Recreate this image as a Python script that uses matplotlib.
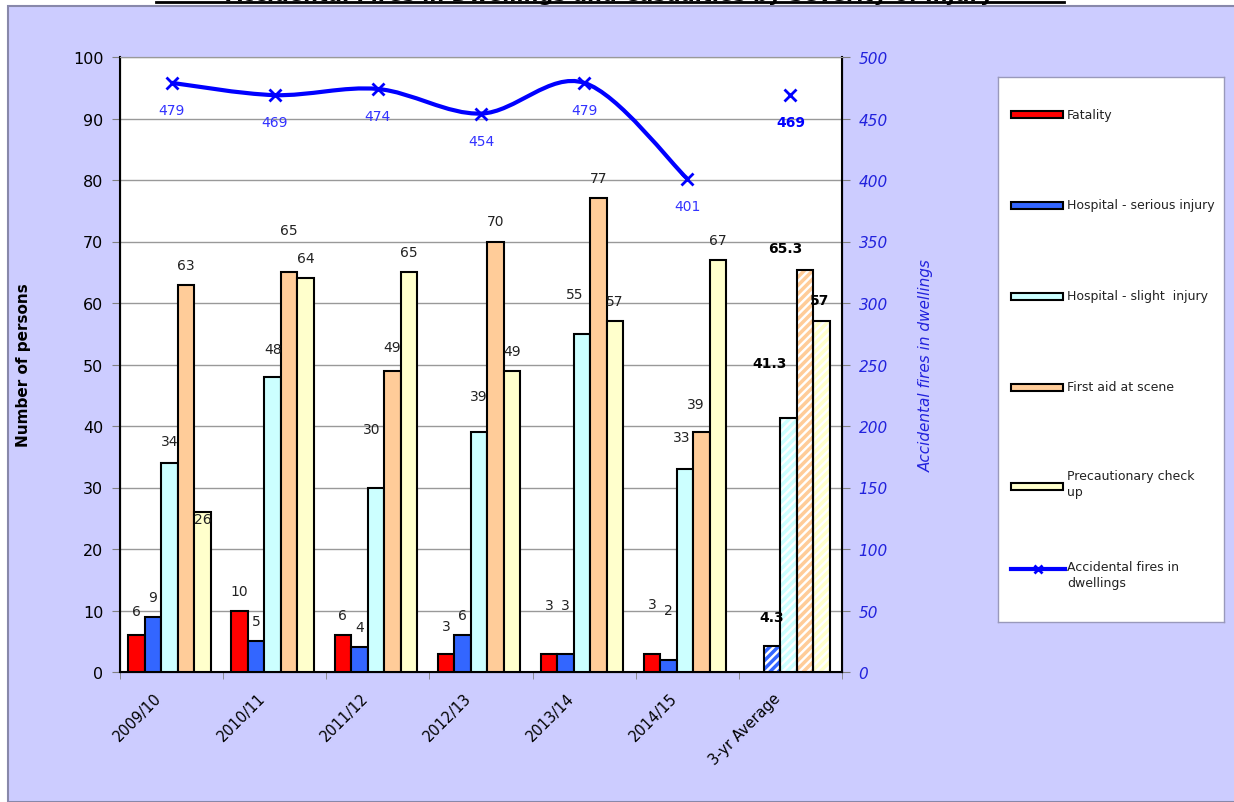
import numpy as np
import matplotlib
matplotlib.use("Agg")
import matplotlib.pyplot as plt
from matplotlib.path import Path
from matplotlib.patches import PathPatch, Rectangle
from matplotlib.lines import Line2D

# ---- data ----
YEARS      = ["2009/10", "2010/11", "2011/12", "2012/13", "2013/14", "2014/15"]
CATEGORIES = YEARS + ["3-yr Average"]
SERIES     = ["Fatality", "Hospital - serious injury", "Hospital - slight  injury",
              "First aid at scene", "Precautionary check\nup"]
FATALITY   = [6, 10, 6, 3, 3, 3]
SERIOUS    = [9, 5, 4, 6, 3, 2]
SLIGHT     = [34, 48, 30, 39, 55, 33]
FIRST_AID  = [63, 65, 49, 70, 77, 39]
CHECK_UP   = [26, 64, 65, 49, 57, 67]
AVERAGE    = [None, 4.3, 41.3, 65.3, 57]
FIRES      = [479, 469, 474, 454, 479, 401]
FIRES_AVG  = 469
LINE_NAME  = "Accidental fires in\ndwellings"

COLORS   = ["#FF0000", "#3366FF", "#CCFFFF", "#FFCC99", "#FFFFCC"]
BG       = "#CCCCFF"
BLUE     = "#0000FF"
LBLUE    = "#3333FF"

# label nudges in pixels (dx, dy) relative to default spot above the bar
NUDGE = {(0, 0): (0, -4), (2, 0): (0, -2), (4, 0): (0, 27),
         (2, 1): (0, -8), (3, 1): (0, -22),
         (2, 2): (-4, -38), (3, 2): (0, -4),
         (0, 3): (0, -8), (2, 3): (0, -16),
         (0, 4): (0, -29), (1, 4): (0, -29), (2, 4): (-7, -20),
         (0, 5): (0, -30), (1, 5): (0, -30), (2, 5): (-4, -12), (3, 5): (-6, -8),
         (1, 6): (0, -9), (2, 6): (-19, -35), (3, 6): (-20, -2), (4, 6): (-2, -1)}

W, H = 1234, 803
plt.rcParams["font.family"] = ["DejaVu Sans"]
plt.rcParams["hatch.linewidth"] = 2.5


def box(x0, y0, x1, y1):
    return [x0 / W, 1 - y1 / H, (x1 - x0) / W, (y1 - y0) / H]


fig = plt.figure(figsize=(W / 100, H / 100), dpi=100, facecolor="white")
fig.patches.append(Rectangle((8 / W, 0), 1, 1 - 6.5 / H, transform=fig.transFigure,
                             facecolor=BG, edgecolor="#8888AA", linewidth=1.5, zorder=-5))

# title sits mostly above the top edge, as in the source
fig.text(610 / W, 1 - 1 / H, "Accidental Fires in Dwellings and Casualties by Severity of Injury",
         ha="center", va="baseline", fontsize=15, fontweight="bold", color="black")
fig.lines.append(Line2D([156 / W, 1064 / W], [1 - 3 / H] * 2, transform=fig.transFigure,
                        color="black", linewidth=2))

ax = fig.add_axes(box(120, 58, 842, 673))
ax.set_facecolor("white")
ax2 = ax.twinx()

values = [FATALITY, SERIOUS, SLIGHT, FIRST_AID, CHECK_UP]
x = np.arange(len(CATEGORIES))
bw = 0.16
offsets = (np.arange(5) - 2) * bw - 0.02

for s, (vals, col) in enumerate(zip(values, COLORS)):
    ax.bar(x[:6] + offsets[s], vals, bw, color=col, edgecolor="black", linewidth=1.5, zorder=3)
    for g, v in enumerate(vals):
        dx, dy = NUDGE.get((s, g), (0, 0))
        ax.annotate(f"{v}", (x[g] + offsets[s], v), xytext=(dx, 20 - dy),
                    textcoords="offset pixels", ha="center", va="center",
                    fontsize=10, color="#222222", zorder=5)
    avg = AVERAGE[s]
    if avg is not None:
        ax.bar(x[6] + offsets[s], avg, bw, color="white", edgecolor=col, hatch="////",
               linewidth=0, zorder=3)
        ax.bar(x[6] + offsets[s], avg, bw, fill=False, edgecolor="black", linewidth=1.5, zorder=4)
        dx, dy = NUDGE.get((s, 6), (0, 0))
        ax.annotate(f"{avg:g}", (x[6] + offsets[s], avg), xytext=(dx, 20 - dy),
                    textcoords="offset pixels", ha="center", va="center",
                    fontsize=10, fontweight="bold", color="black", zorder=5)

ax.set_xlim(-0.5, 6.5)
ax.set_ylim(0, 100)
ax.set_yticks(np.arange(0, 101, 10))
ax.yaxis.grid(True, color="#999999", linewidth=1, zorder=0)
ax.set_axisbelow(True)
# label anchors sit a little left of each category centre (tick marks hidden)
ax.set_xticks(x - 0.17)
ax.set_xticklabels(CATEGORIES, rotation=45, ha="right", rotation_mode="anchor", fontsize=10.5)
ax.set_xticks(np.arange(-0.5, 7.0, 1), minor=True)
ax.tick_params(axis="x", which="major", length=0, pad=13)
ax.tick_params(axis="x", which="minor", length=5, color="#808080")
ax.tick_params(axis="y", length=6, color="#808080", labelsize=11.5, pad=6)
ax.set_ylabel("Number of persons", fontsize=11, fontweight="bold", labelpad=30)
for side in ["left", "bottom"]:
    ax.spines[side].set_linewidth(1.5)
ax.spines["top"].set_color("#999999")

# smooth line (Excel-style Bezier) on secondary axis
pts = np.column_stack([x[:6], FIRES]).astype(float)
verts, codes = [tuple(pts[0])], [Path.MOVETO]
for i in range(len(pts) - 1):
    p0 = pts[max(i - 1, 0)]
    p1, p2 = pts[i], pts[i + 1]
    p3 = pts[min(i + 2, len(pts) - 1)]
    verts += [tuple(p1 + (p2 - p0) / 6), tuple(p2 - (p3 - p1) / 6), tuple(p2)]
    codes += [Path.CURVE4] * 3
ax2.add_patch(PathPatch(Path(verts, codes), facecolor="none", edgecolor=BLUE,
                        linewidth=3, zorder=6))
ax2.plot(x[:6], FIRES, linestyle="none", marker="x", markersize=8, mew=2, color=BLUE, zorder=7)
ax2.plot([x[6]], [FIRES_AVG], linestyle="none", marker="x", markersize=8, mew=2, color=BLUE, zorder=7)
for xi, v in zip(x[:6], FIRES):
    ax2.annotate(f"{v}", (xi, v), xytext=(0, -27), textcoords="offset pixels",
                 ha="center", va="center", fontsize=10, color=LBLUE)
ax2.annotate(f"{FIRES_AVG}", (x[6], FIRES_AVG), xytext=(0, -27), textcoords="offset pixels",
             ha="center", va="center", fontsize=10, fontweight="bold", color=BLUE)

ax2.set_ylim(0, 500)
ax2.set_yticks(np.arange(0, 501, 50))
ax2.tick_params(axis="y", length=6, color="#808080", labelsize=11, labelcolor="#2222DD", pad=6)
for lab in ax2.get_yticklabels():
    lab.set_fontstyle("italic")
ax2.set_ylabel("Accidental fires in dwellings", fontsize=11, fontstyle="italic",
               color="#2222DD", labelpad=22)
ax2.spines["right"].set_linewidth(1.5)
ax2.spines["top"].set_color("#999999")

# legend drawn by hand inside its own box
lax = fig.add_axes(box(998, 78, 1224, 623))
lax.set_xlim(998, 1224)
lax.set_ylim(623, 78)
lax.set_xticks([])
lax.set_yticks([])
lax.set_facecolor("white")
for sp in lax.spines.values():
    sp.set_color("#9999BB")
    sp.set_linewidth(1)
entry_y = [115, 206, 297, 388, 487, 578]
for name, col, yy in zip(SERIES, COLORS, entry_y):
    lax.add_patch(Rectangle((1011, yy - 3.5), 52, 7, facecolor=col, edgecolor="black", linewidth=1.5))
    if "\n" in name:
        lax.text(1067, yy - 17, name, ha="left", va="top", fontsize=9, color="#222222", linespacing=1.3)
    else:
        lax.text(1067, yy, name, ha="left", va="center", fontsize=9, color="#222222")
lax.plot([1011, 1065], [entry_y[5] - 8] * 2, color=BLUE, linewidth=3)
lax.plot([1038], [entry_y[5] - 8], marker="x", markersize=6, mew=2, color=BLUE)
lax.text(1067, entry_y[5] - 17, LINE_NAME, ha="left", va="top", fontsize=9, color="#222222",
         linespacing=1.3)

fig.savefig("out.png", dpi=100, facecolor=fig.get_facecolor())
